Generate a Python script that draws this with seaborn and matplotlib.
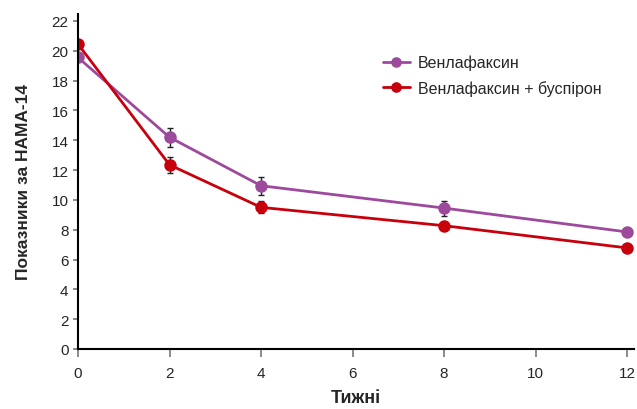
import matplotlib
matplotlib.use("Agg")
import matplotlib.pyplot as plt
import seaborn as sns
import pandas as pd

# Data
weeks = [0, 2, 4, 8, 12]
venla = [19.55, 14.2, 10.95, 9.45, 7.85]
venla_err = [0.0, 0.62, 0.6, 0.5, 0.0]
combo = [20.45, 12.35, 9.5, 8.27, 6.78]
combo_err = [0.0, 0.55, 0.4, 0.0, 0.0]
series_names = ["Венлафаксин", "Венлафаксин + буспірон"]
colors = ["#9E4A9C", "#C8000B"]

df = pd.DataFrame({
    "week": weeks * 2,
    "score": venla + combo,
    "group": [series_names[0]] * len(weeks) + [series_names[1]] * len(weeks),
})

sns.set_style("white")
plt.rcParams["font.family"] = ["Liberation Sans", "DejaVu Sans"]

fig = plt.figure(figsize=(6.37, 4.10), dpi=100)
ax = fig.add_axes([78 / 637, 1 - 350 / 410, (634 - 78) / 637, (350 - 14.5) / 410])

# error bars behind the markers
for vals, errs in [(venla, venla_err), (combo, combo_err)]:
    ax.errorbar(weeks, vals, yerr=errs, fmt="none", ecolor="#222222",
                elinewidth=1.0, capsize=2.5, capthick=1.0, zorder=1)

sns.lineplot(data=df, x="week", y="score", hue="group", palette=colors,
             marker="o", markersize=9, markeredgewidth=0, linewidth=2.0,
             ax=ax, zorder=2)

ax.set_xlim(0, 12.15)
ax.set_ylim(0, 22.5)
ax.set_xticks(range(0, 13, 2))
ax.set_yticks(range(0, 23, 2))
ax.tick_params(axis="x", direction="out", length=6, width=1.2,
               color="#777777", labelsize=11, pad=6, bottom=True)
ax.tick_params(axis="y", direction="out", length=3.8, width=1.2,
               color="#777777", labelsize=11, pad=3, left=True)

for side in ["top", "right"]:
    ax.spines[side].set_visible(False)
for side in ["left", "bottom"]:
    ax.spines[side].set_color("black")
    ax.spines[side].set_linewidth(1.5)

ax.set_xlabel("Тижні", fontsize=13, fontweight="bold", labelpad=7)
ax.set_ylabel("Показники за HAMA-14", fontsize=12.5, fontweight="bold", labelpad=15)

leg = ax.legend(loc="upper left", bbox_to_anchor=(0.522, 0.92), frameon=False,
                fontsize=11.5, handlelength=1.7, handletextpad=0.5,
                labelspacing=0.6, markerscale=0.85)

fig.savefig("out.png", dpi=100)
